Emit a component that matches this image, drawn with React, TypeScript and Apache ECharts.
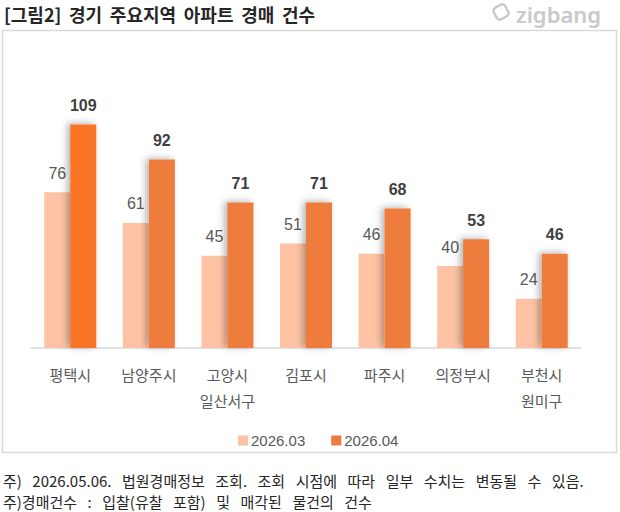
import React, { useEffect, useRef } from "react";
import * as echarts from "echarts";

const categories = ["평택시", "남양주시", "고양시\n일산서구", "김포시", "파주시", "의정부시", "부천시\n원미구"];
const series2603 = [76, 61, 45, 51, 46, 40, 24];
const series2604 = [109, 92, 71, 71, 68, 53, 46];
const seriesNames = ["2026.03", "2026.04"];
const titleText = "[그림2] 경기 주요지역 아파트 경매 건수";
const notes = [
  "주) 2026.05.06. 법원경매정보 조회. 조회 시점에 따라 일부 수치는 변동될 수 있음.",
  "주)경매건수 : 입찰(유찰 포함) 및 매각된 물건의 건수",
];

const KR = "'Noto Sans CJK KR', sans-serif";
const NUM = "'Liberation Sans', 'Noto Sans CJK KR', sans-serif";
const wide = (s: string, sp: string) => s.split(" ").join(sp);

export default function App() {
  const ref = useRef<HTMLDivElement>(null);
  useEffect(() => {
    if (!ref.current) return;
    const chart = echarts.init(ref.current, null, { renderer: "svg" });
    const darkColor = "#EE7B3D";
    const lightColor = "#FDC3A4";
    chart.setOption({
      animation: false,
      backgroundColor: "#ffffff",
      grid: { left: 31, right: 39, top: 102, bottom: 164 },
      legend: {
        data: seriesNames,
        top: 428,
        left: 233,
        itemWidth: 10,
        itemHeight: 10,
        itemGap: 26,
        icon: "rect",
        textStyle: { color: "#595959", fontSize: 15, fontFamily: NUM, padding: [0, 0, 0, -2] },
      },
      xAxis: {
        type: "category",
        data: categories,
        axisLine: { lineStyle: { color: "#D9D9D9", width: 1.5 } },
        axisTick: { show: false },
        axisLabel: {
          color: "#595959",
          fontSize: 15,
          fontFamily: KR,
          margin: 13,
          lineHeight: 26,
          interval: 0,
        },
      },
      yAxis: { type: "value", min: 0, max: 120, show: false, splitLine: { show: false } },
      series: [
        {
          name: seriesNames[0],
          type: "bar",
          data: series2603,
          barWidth: 26,
          barGap: "0%",
          itemStyle: { color: lightColor },
          label: {
            show: true,
            position: "top",
            distance: 11,
            color: "#595959",
            fontSize: 16,
            fontFamily: NUM,
          },
        },
        {
          name: seriesNames[1],
          type: "bar",
          data: series2604.map((v, i) => (i === 0 ? { value: v, itemStyle: { color: "#F97428" } } : v)),
          barWidth: 26,
          z: 3,
          itemStyle: {
            color: darkColor,
            shadowColor: "rgba(0,0,0,0.3)",
            shadowBlur: 7,
            shadowOffsetX: -3,
            shadowOffsetY: -1,
          },
          label: {
            show: true,
            position: "top",
            distance: 11,
            color: "#404040",
            fontSize: 16,
            fontWeight: "bold",
            fontFamily: NUM,
          },
        },
      ],
      graphic: [
        {
          type: "rect",
          shape: { x: 2.5, y: 30.5, width: 614, height: 422 },
          style: { fill: "none", stroke: "#D9D9D9", lineWidth: 1.5 },
          silent: true,
        },
        {
          type: "text",
          x: 4,
          y: 14,
          style: {
            text: wide(titleText, "\u2009 "),
            fill: "#262626",
            font: `bold 18px ${KR}`,
            verticalAlign: "middle",
          },
        },
        {
          type: "rect",
          x: 501,
          y: 12,
          rotation: 0.5,
          shape: { x: -6.5, y: -6.5, width: 13, height: 13, r: 3.5 },
          style: { fill: "none", stroke: "#C9C9C9", lineWidth: 2.5 },
        },
        {
          type: "text",
          x: 516,
          y: 3,
          style: {
            text: "zigbang",
            fill: "#C9C9C9",
            font: "600 22px 'Noto Sans', sans-serif",
            verticalAlign: "top",
          },
        },
        {
          type: "text",
          x: 3,
          y: 480,
          style: { text: wide(notes[0], "\u2002\u2009"), fill: "#262626", font: `15px ${KR}`, verticalAlign: "middle" },
        },
        {
          type: "text",
          x: 3,
          y: 501,
          style: { text: wide(notes[1], "\u2002\u2009"), fill: "#262626", font: `15px ${KR}`, verticalAlign: "middle" },
        },
      ],
    });
    return () => chart.dispose();
  }, []);
  return (
    <div
      ref={ref}
      style={{ position: "absolute", left: 0, top: 0, width: 620, height: 512 }}
    />
  );
}
